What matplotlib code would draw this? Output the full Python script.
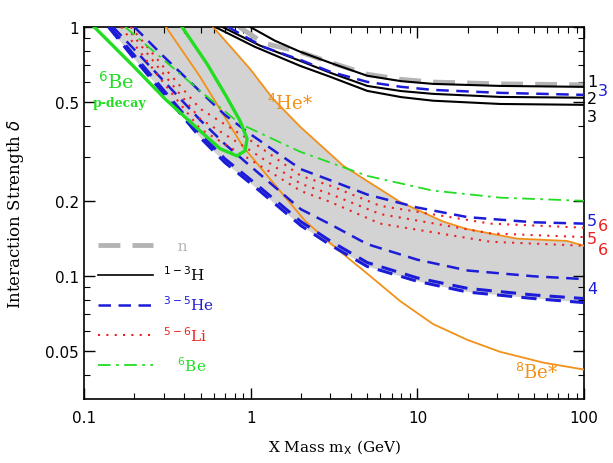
import matplotlib
matplotlib.use("Agg")
import matplotlib.pyplot as plt
from matplotlib.ticker import FixedLocator, FixedFormatter, LogLocator, NullFormatter
from matplotlib.lines import Line2D

# ---- 1-3H (black solid) ----
h1_x = [0.99, 1.4, 1.98, 3.0, 5.0, 8.0, 12.4, 31.3, 100]
h1_y = [1.0, 0.879, 0.794, 0.717, 0.636, 0.605, 0.59, 0.579, 0.574]
h2_x = [0.673, 1.14, 1.98, 3.0, 5.0, 8.0, 12.4, 31.3, 100]
h2_y = [1.0, 0.84, 0.73, 0.654, 0.579, 0.552, 0.538, 0.523, 0.519]
h3_x = [0.61, 1.06, 1.98, 3.0, 5.0, 8.0, 12.4, 31.3, 100]
h3_y = [1.0, 0.831, 0.697, 0.63, 0.553, 0.522, 0.505, 0.49, 0.486]

# ---- n (grey thick dashed) ----
n_x = [0.85, 1.2, 2.0, 3.0, 5.0, 8.0, 12.4, 31.3, 100]
n_y = [1.0, 0.86, 0.79, 0.72, 0.645, 0.615, 0.6, 0.59, 0.585]

# ---- 3-5He (blue dashed) ----
he3_x = [0.73, 1.19, 1.98, 3.0, 5.0, 8.0, 12.4, 31.3, 100]
he3_y = [1.0, 0.831, 0.737, 0.66, 0.601, 0.574, 0.558, 0.543, 0.533]
he5_x = [0.2, 0.3, 0.5, 0.7, 1, 1.5, 2, 3, 5, 10, 20, 50, 100]
he5_y = [1.0, 0.761, 0.548, 0.443, 0.370, 0.306, 0.268, 0.242, 0.212, 0.188, 0.172, 0.164, 0.162]
he4a_x = [0.149, 0.2, 0.3, 0.5, 0.7, 1, 1.5, 2, 3, 5, 10, 20, 50, 100]
he4a_y = [1.0, 0.812, 0.607, 0.421, 0.338, 0.275, 0.218, 0.185, 0.161, 0.134, 0.116, 0.105, 0.0995, 0.097]
he4b_x = [0.143, 0.2, 0.3, 0.5, 0.7, 1, 1.5, 2, 3, 5, 10, 20, 50, 100]
he4b_y = [1.0, 0.769, 0.557, 0.371, 0.295, 0.243, 0.194, 0.165, 0.138, 0.113, 0.098, 0.089, 0.0837, 0.081]
he4c_x = [0.14, 0.2, 0.3, 0.5, 0.7, 1, 1.5, 2, 3, 5, 10, 20, 50, 100]
he4c_y = [1.0, 0.745, 0.54, 0.358, 0.285, 0.235, 0.187, 0.159, 0.133, 0.109, 0.095, 0.086, 0.081, 0.078]

# ---- 5-6Li (red dotted) ----
lia_x = [0.191, 0.3, 0.497, 1.0, 2.0, 3.0, 5.97, 27.4, 100]
lia_y = [1.0, 0.69, 0.469, 0.349, 0.252, 0.23, 0.191, 0.162, 0.156]
lib_x = [0.179, 0.3, 0.497, 1.0, 2.0, 3.0, 5.97, 27.4, 100]
lib_y = [1.0, 0.647, 0.427, 0.318, 0.234, 0.213, 0.177, 0.148, 0.143]
lic_x = [0.167, 0.3, 0.497, 1.0, 2.0, 3.0, 5.97, 27.4, 100]
lic_y = [1.0, 0.596, 0.389, 0.292, 0.219, 0.198, 0.162, 0.137, 0.132]

# ---- 6Be (green dash-dot) ----
be_x = [0.176, 0.286, 0.497, 0.863, 1.98, 4.99, 12.3, 31.3, 100]
be_y = [1.0, 0.758, 0.553, 0.408, 0.315, 0.252, 0.22, 0.206, 0.2]

# ---- 6Be p-decay contour (green thick) ----
pd_x = [0.115, 0.197, 0.306, 0.497, 0.655, 0.828, 0.925, 0.951, 0.863, 0.711, 0.547, 0.387]
pd_y = [1.0, 0.697, 0.514, 0.382, 0.324, 0.303, 0.318, 0.355, 0.419, 0.528, 0.71, 1.0]

# ---- excited states (orange) ----
he4s_x = [0.594, 0.99, 1.36, 1.98, 3.58, 7.87, 14.3, 19.9, 39.6, 78.9, 100]
he4s_y = [1.0, 0.678, 0.514, 0.397, 0.277, 0.198, 0.165, 0.154, 0.141, 0.138, 0.132]
be8s_x = [0.31, 0.497, 0.90, 2.12, 3.3, 5.0, 7.9, 12.4, 19.9, 31.3, 56.7, 100]
be8s_y = [1.0, 0.63, 0.33, 0.166, 0.128, 0.102, 0.079, 0.064, 0.0553, 0.0495, 0.0448, 0.042]

blue = '#1c1cd8'
red = '#ee2020'
green = '#22dd22'
orange = '#f39019'
grey = '#b4b4b4'

fig = plt.figure(figsize=(6.13, 4.64), dpi=100)
ax = fig.add_axes([0.137, 0.138, 0.816, 0.802])

# shaded band between lowest He line and 4He*
ax.fill(he4c_x + he4s_x[::-1], he4c_y + he4s_y[::-1], color='#d3d3d3', lw=0, zorder=1)

ax.plot(be8s_x, be8s_y, color=orange, lw=1.3, zorder=3)
ax.plot(he4s_x, he4s_y, color=orange, lw=1.3, zorder=3)

ax.plot(n_x, n_y, color=grey, lw=3.5, dashes=(4.5, 2.5), zorder=2)
for xs, ys in [(h1_x, h1_y), (h2_x, h2_y), (h3_x, h3_y)]:
    ax.plot(xs, ys, color='black', lw=1.5, zorder=4)

for xs, ys, lw in [(he3_x, he3_y, 1.8), (he5_x, he5_y, 1.8), (he4a_x, he4a_y, 1.8),
                   (he4b_x, he4b_y, 2.2), (he4c_x, he4c_y, 2.2)]:
    ax.plot(xs, ys, color=blue, lw=lw, dashes=(5, 3), zorder=5)

for xs, ys in [(lia_x, lia_y), (lib_x, lib_y), (lic_x, lic_y)]:
    ax.plot(xs, ys, color=red, lw=1.5, linestyle=(0, (1, 3)), zorder=5)

ax.plot(be_x, be_y, color=green, lw=1.3, dashes=(7, 3, 1.5, 3), zorder=5)
ax.plot(pd_x, pd_y, color=green, lw=2.4, zorder=6)

ax.set_xscale('log')
ax.set_yscale('log')
ax.set_xlim(0.1, 100)
ax.set_ylim(0.032, 1)

ax.xaxis.set_major_locator(FixedLocator([0.1, 1, 10, 100]))
ax.xaxis.set_major_formatter(FixedFormatter(['0.1', '1', '10', '100']))
ax.xaxis.set_minor_locator(LogLocator(base=10, subs=range(2, 10)))
ax.xaxis.set_minor_formatter(NullFormatter())
ax.yaxis.set_major_locator(FixedLocator([0.05, 0.1, 0.2, 0.5, 1]))
ax.yaxis.set_major_formatter(FixedFormatter(['0.05', '0.1', '0.2', '0.5', '1']))
ax.yaxis.set_minor_locator(LogLocator(base=10, subs=range(2, 10)))
ax.yaxis.set_minor_formatter(NullFormatter())
ax.tick_params(which='both', direction='in', top=True, right=True, labelsize=11)
ax.tick_params(which='major', length=8, width=1)
ax.tick_params(which='minor', length=4, width=0.8)
ax.tick_params(axis='x', pad=8)
for s in ax.spines.values():
    s.set_linewidth(1.2)

ax.set_xlabel(r'X Mass m$_{\rm X}$ (GeV)', family='DejaVu Serif', fontsize=11, labelpad=9)
ax.set_ylabel(r'Interaction Strength $\delta$', family='DejaVu Serif', fontsize=12, labelpad=14)

# legend
handles = [
    Line2D([], [], color=grey, lw=3.5, dashes=(4.5, 2.5)),
    Line2D([], [], color='black', lw=1.2),
    Line2D([], [], color=blue, lw=1.8, dashes=(5, 3)),
    Line2D([], [], color=red, lw=1.5, linestyle=(0, (1, 3))),
    Line2D([], [], color=green, lw=1.3, dashes=(7, 3, 1.5, 3)),
]
labels = ['   n', r'$^{1-3}$H', r'$^{3-5}$He', r'$^{5-6}$Li', r'   $^{6}$Be']
leg = ax.legend(handles, labels, loc='lower left', bbox_to_anchor=(0.0, 0.031),
                frameon=False, handlelength=3.6, handletextpad=0.7, labelspacing=0.75,
                prop={'family': 'DejaVu Serif', 'size': 11})
for t, c in zip(leg.get_texts(), [grey, 'black', blue, red, green]):
    t.set_color(c)

# right-hand labels
yt = ax.get_yaxis_transform()
right_labels = [('1', 1.016, 0.605, 'black'), ('3', 1.038, 0.553, blue),
                ('2', 1.016, 0.514, 'black'), ('3', 1.016, 0.437, 'black'),
                ('5', 1.016, 0.167, blue), ('6', 1.038, 0.159, red),
                ('5', 1.016, 0.141, red), ('6', 1.038, 0.127, red),
                ('4', 1.016, 0.089, blue)]
for txt, xa, yv, c in right_labels:
    ax.text(xa, yv, txt, transform=yt, color=c, fontsize=11.5, ha='center', va='center',
            clip_on=False)

ax.text(1.72, 0.496, r'$^{4}$He*', color=orange, fontsize=13, family='DejaVu Serif',
        ha='center', va='center')
ax.text(52, 0.041, r'$^{8}$Be*', color=orange, fontsize=13, family='DejaVu Serif',
        ha='center', va='center')
ax.text(0.156, 0.607, r'$^{6}$Be', color=green, fontsize=14, family='DejaVu Serif',
        ha='center', va='center')
ax.text(0.164, 0.496, 'p-decay', color=green, fontsize=9, family='DejaVu Serif',
        weight='bold', ha='center', va='center')

fig.savefig('out.png', dpi=100)
